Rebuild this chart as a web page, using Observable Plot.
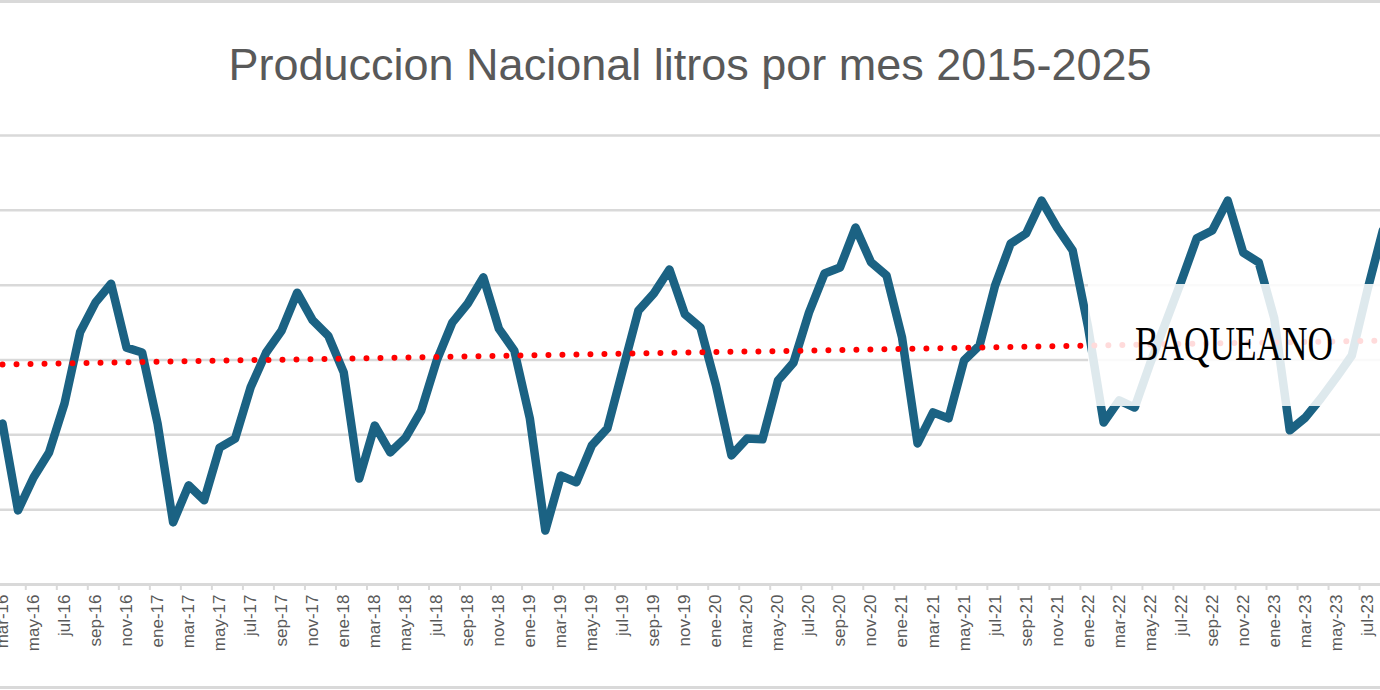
<!DOCTYPE html>
<html>
<head>
<meta charset="utf-8">
<script src="https://cdn.jsdelivr.net/npm/d3@7"></script>
<script src="https://cdn.jsdelivr.net/npm/@observablehq/plot@0.6"></script>
<style>
  html, body { margin: 0; padding: 0; background: #fff; }
  #chart { position: relative; width: 1380px; height: 690px; overflow: hidden; font-family: "Liberation Sans", Arial, sans-serif; }
  #borde-sup { position: absolute; left: 0; top: 0; width: 1380px; height: 3px; background: #d9d9d9; }
  #borde-inf { position: absolute; left: 0; top: 686px; width: 1380px; height: 3px; background: #d9d9d9; }
  #titulo { height: 100px; box-sizing: border-box; padding-top: 42px; text-align: center; font-size: 45px; line-height: 45px; color: #595959; white-space: nowrap; }
  #marca { position: absolute; left: 1088px; top: 284px; width: 292px; height: 122px; background: rgba(255,255,255,0.86); }
  #marca svg { position: absolute; left: 0; top: 0; }
</style>
</head>
<body>
<div id="chart">
  <div id="borde-sup"></div>
  <div id="titulo">Produccion Nacional litros por mes 2015-2025</div>
  <div id="grafico"></div>
  <div id="marca">
    <svg width="292" height="122">
      <text x="47" y="76" font-family="'Liberation Serif', 'DejaVu Serif', serif" font-size="48" fill="#000" textLength="198" lengthAdjust="spacingAndGlyphs">BAQUEANO</text>
    </svg>
  </div>
  <div id="borde-inf"></div>
</div>
<script>
// Meses (categorías del eje X)
const meses = [
  "mar-16","abr-16","may-16","jun-16","jul-16","ago-16","sep-16","oct-16","nov-16","dic-16",
  "ene-17","feb-17","mar-17","abr-17","may-17","jun-17","jul-17","ago-17","sep-17","oct-17","nov-17","dic-17",
  "ene-18","feb-18","mar-18","abr-18","may-18","jun-18","jul-18","ago-18","sep-18","oct-18","nov-18","dic-18",
  "ene-19","feb-19","mar-19","abr-19","may-19","jun-19","jul-19","ago-19","sep-19","oct-19","nov-19","dic-19",
  "ene-20","feb-20","mar-20","abr-20","may-20","jun-20","jul-20","ago-20","sep-20","oct-20","nov-20","dic-20",
  "ene-21","feb-21","mar-21","abr-21","may-21","jun-21","jul-21","ago-21","sep-21","oct-21","nov-21","dic-21",
  "ene-22","feb-22","mar-22","abr-22","may-22","jun-22","jul-22","ago-22","sep-22","oct-22","nov-22","dic-22",
  "ene-23","feb-23","mar-23","abr-23","may-23","jun-23","jul-23","ago-23"
];

// Producción mensual (millones de litros)
const produccion = [
  143.0, 119.8, 128.6, 135.3, 148.4, 167.4, 175.4, 180.4, 163.3, 162.0,
  143.0, 116.6, 126.5, 122.5, 136.6, 139.0, 152.7, 162.0, 167.9, 178.0, 170.6, 166.5,
  156.7, 128.3, 142.5, 135.3, 139.3, 146.5, 159.9, 170.0, 175.1, 182.1, 168.4, 162.5,
  144.4, 114.4, 129.1, 127.3, 137.2, 141.7, 157.5, 173.2, 177.8, 184.2, 172.2, 168.7,
  153.2, 134.5, 139.0, 138.8, 154.5, 159.3, 172.7, 183.1, 184.7, 195.4, 186.1, 182.6,
  166.0, 137.7, 146.0, 144.4, 159.9, 163.9, 179.9, 191.1, 193.8, 202.6, 195.4, 189.3,
  168.7, 143.3, 149.2, 147.3, 159.1, 170.0, 181.0, 192.5, 194.6, 202.6, 188.7, 186.1,
  171.1, 141.2, 144.6, 149.7, 155.3, 161.2, 178.6, 194.6
];

// Línea de tendencia lineal (extremos)
const tendenciaMes = ["mar-16", "ago-23"];
const tendenciaValor = [158.8, 165.2];

// Líneas de cuadrícula del eje Y
const yTicks = [100, 120, 140, 160, 180, 200, 220];

// Etiquetas cada dos meses, marcas de división entre categorías
const etiquetasX = meses.filter((m, i) => i % 2 === 0);

const datos = meses.map((mes, i) => ({i, mes, litros: produccion[i]}));
const tendencia = tendenciaMes.map((mes, k) => ({i: meses.indexOf(mes), litros: tendenciaValor[k]}));
const posEtiquetas = etiquetasX.map(m => meses.indexOf(m));
const posDivisiones = posEtiquetas.map(i => i + 1.5);

const chart = Plot.plot({
  width: 1380,
  height: 590,
  marginLeft: 0,
  marginRight: 0,
  marginTop: 35,
  marginBottom: 106,
  style: {background: "transparent", fontFamily: "'Liberation Sans', Arial, sans-serif"},
  x: {type: "linear", domain: [-0.13, 88.85], axis: null},
  y: {domain: [100, 220], axis: null},
  marks: [
    Plot.gridY(yTicks, {stroke: "#d9d9d9", strokeOpacity: 1, strokeWidth: 2.5}),
    Plot.ruleY([100], {stroke: "#d9d9d9", strokeWidth: 3}),
    Plot.axisX({ticks: posDivisiones, tickSize: 6, tickFormat: () => "", stroke: "#d9d9d9", strokeWidth: 2, label: null}),
    Plot.axisX({
      ticks: posEtiquetas,
      tickSize: 0,
      tickPadding: 10,
      tickRotate: -90,
      tickFormat: i => meses[i],
      fill: "#595959",
      fontSize: 17,
      label: null
    }),
    Plot.line(datos, {x: "i", y: "litros", stroke: "#1b6283", strokeWidth: 8.5, strokeLinejoin: "round", clip: true}),
    Plot.line(tendencia, {x: "i", y: "litros", stroke: "#ff0000", strokeWidth: 6, strokeDasharray: "0 14", strokeLinecap: "round", clip: true})
  ]
});
document.getElementById("grafico").appendChild(chart);
</script>
</body>
</html>
